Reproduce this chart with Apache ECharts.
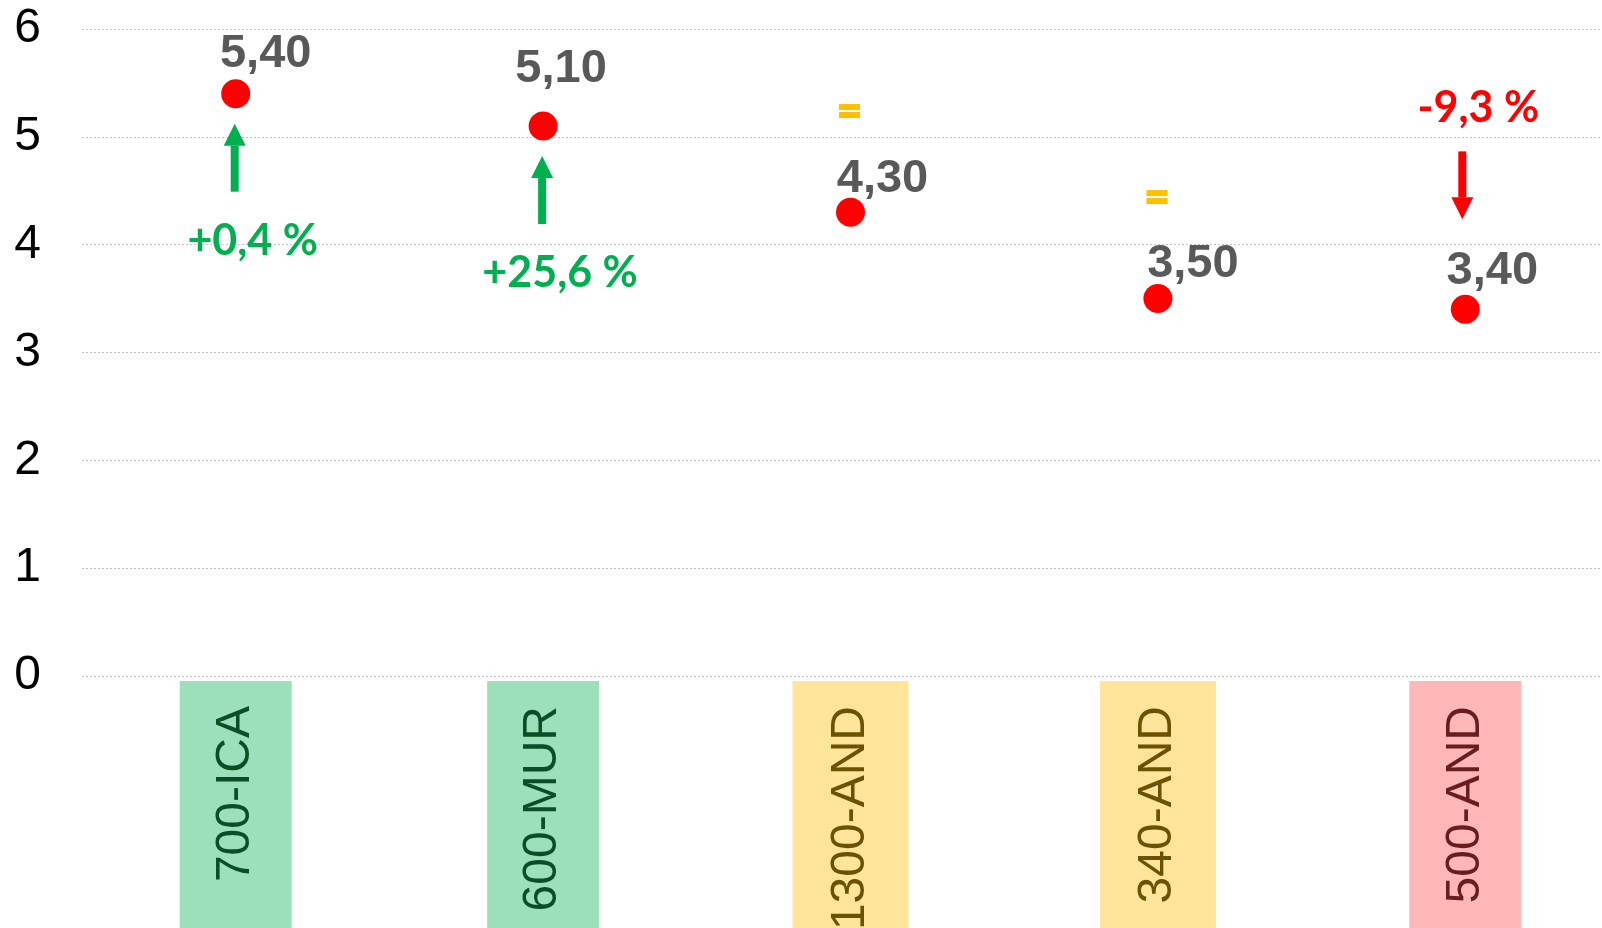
<!DOCTYPE html>
<html>
<head>
<meta charset="utf-8">
<script src="https://cdn.jsdelivr.net/npm/echarts@6/dist/echarts.min.js"></script>
<style>
html,body{margin:0;padding:0;background:#fff;}
#chart{width:1602px;height:928px;}
</style>
</head>
<body>
<div id="chart"></div>
<script>
// ---- data ----
const categories = ['700-ICA', '600-MUR', '1300-AND', '340-AND', '500-AND'];
const values = [5.40, 5.10, 4.30, 3.50, 3.40];
const changes = ['+0,4 %', '+25,6 %', '=', '=', '-9,3 %'];
const yMin = 0, yMax = 6, yStep = 1;

// ---- styling (not data) ----
const labelOffsets = [[30, -40], [18, -57], [32, -33], [35, -35], [27, -38]];
const boxSidePads = [32, 32, 34, 34, 32];
const palette = {
  up:   { text: '#00B050', box: '#9BE0BB', boxText: '#0B4D24' },
  flat: { text: '#FFC000', box: '#FFE599', boxText: '#6B5200' },
  down: { text: '#FF0000', box: '#FFB7B7', boxText: '#6A1D1D' }
};
function kind(ch) {
  if (ch.charAt(0) === '+') return 'up';
  if (ch.charAt(0) === '-') return 'down';
  return 'flat';
}
const fmt = v => v.toFixed(2).replace('.', ',');

const chart = echarts.init(document.getElementById('chart'), null, { renderer: 'canvas' });

const xData = categories.map((c, i) => {
  const p = palette[kind(changes[i])];
  return {
    value: c,
    textStyle: {
      color: p.boxText,
      backgroundColor: p.box,
      padding: [boxSidePads[i], 25, boxSidePads[i], 120]
    }
  };
});

function arrow(x, yTip, yTail, color) {
  const dir = yTail > yTip ? 1 : -1; // 1 = pointing up
  const headLen = 22, headW = 22, shaftW = 8;
  const yBase = yTip + dir * headLen;
  const top = Math.min(yBase, yTail), h = Math.abs(yTail - yBase);
  return [
    { type: 'rect', shape: { x: x - shaftW / 2, y: top, width: shaftW, height: h }, style: { fill: color } },
    { type: 'polygon', shape: { points: [[x, yTip], [x - headW / 2, yBase], [x + headW / 2, yBase]] }, style: { fill: color } }
  ];
}

function renderAnno(params, api) {
  const i = params.dataIndex;
  const ch = changes[i];
  const k = kind(ch);
  const col = palette[k].text;
  const p = api.coord([api.value(0), api.value(1)]);
  const px = p[0], py = p[1];
  const children = [];
  const txt = (x, y, s, thick) => ({
    type: 'text',
    style: {
      x: x, y: y, text: s, fill: col,
      stroke: thick ? col : null, lineWidth: thick ? 2 : 0,
      font: 'bold 43px Lato, "Open Sans", sans-serif',
      align: 'center', verticalAlign: 'middle'
    }
  });
  if (k === 'up') {
    children.push(...arrow(px - 1, py + 30, py + 98, col));
    children.push(txt(px + 17, py + 147, ch));
  } else if (k === 'down') {
    children.push(...arrow(px - 3, py - 90, py - 158, col));
    children.push(txt(px + 13, py - 201, ch));
  } else {
    children.push(txt(px - 1, py - 100, ch, true));
  }
  return { type: 'group', children: children };
}

const option = {
  animation: false,
  backgroundColor: '#ffffff',
  grid: { left: 82, right: -17, top: 29, bottom: 252, containLabel: false, outerBoundsMode: 'none' },
  xAxis: {
    type: 'category',
    data: xData,
    boundaryGap: true,
    axisLine: { show: false },
    axisTick: { show: false },
    splitLine: { show: false },
    axisLabel: {
      interval: 0,
      rotate: 90,
      margin: 5,
      fontSize: 48,
      lineHeight: 48,
      fontFamily: '"Liberation Sans", Arial, sans-serif'
    }
  },
  yAxis: {
    type: 'value',
    min: yMin, max: yMax, interval: yStep,
    axisLine: { show: false },
    axisTick: { show: false },
    axisLabel: {
      fontSize: 48,
      color: '#000000',
      margin: 41,
      fontFamily: '"Liberation Sans", Arial, sans-serif'
    },
    splitLine: { lineStyle: { color: '#C4C4C4', width: 1, type: [2, 2] } }
  },
  series: [
    {
      type: 'scatter',
      symbol: 'circle',
      symbolSize: 29,
      itemStyle: { color: '#FF0000', opacity: 1 },
      z: 3,
      data: values.map((v, i) => ({
        value: [i, v],
        label: { offset: labelOffsets[i] }
      })),
      label: {
        show: true,
        position: 'inside',
        formatter: p => fmt(p.value[1]),
        color: '#595959',
        fontSize: 47,
        fontWeight: 'bold',
        fontFamily: '"Liberation Sans", Arial, sans-serif'
      }
    },
    {
      type: 'custom',
      coordinateSystem: 'cartesian2d',
      renderItem: renderAnno,
      silent: true,
      z: 4,
      data: values.map((v, i) => [i, v])
    }
  ]
};
chart.setOption(option);
</script>
</body>
</html>
